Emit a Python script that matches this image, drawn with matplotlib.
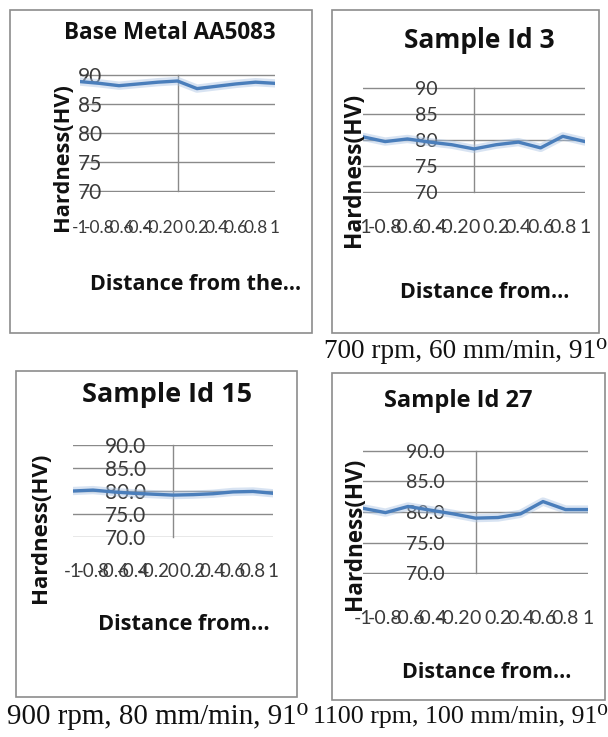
import matplotlib
matplotlib.use("Agg")
import matplotlib.pyplot as plt
from matplotlib.patches import Rectangle
from matplotlib.ticker import FormatStrFormatter

# ---------------- data ----------------
distance = [-1, -0.8, -0.6, -0.4, -0.2, 0, 0.2, 0.4, 0.6, 0.8, 1]
distance_labels = ["-1", "-0.8", "-0.6", "-0.4", "-0.2", "0", "0.2", "0.4", "0.6", "0.8", "1"]
hardness_ticks = [70, 75, 80, 85, 90]

base_metal = [88.8, 88.5, 88.1, 88.4, 88.7, 88.9, 87.6, 88.0, 88.4, 88.7, 88.5]
sample_3 = [80.6, 79.7, 80.2, 79.6, 79.1, 78.3, 79.1, 79.6, 78.5, 80.7, 79.7]
sample_15 = [80.0, 80.2, 79.8, 79.5, 79.3, 79.1, 79.2, 79.4, 79.8, 79.9, 79.5]
sample_27 = [80.6, 79.9, 80.9, 80.3, 79.7, 79.0, 79.1, 79.7, 81.7, 80.4, 80.4]

titles = ["Base Metal AA5083", "Sample Id 3", "Sample Id 15", "Sample Id 27"]
xlabels = ["Distance from the...", "Distance from...", "Distance from...", "Distance from..."]
ylabel = "Hardness(HV)"
captions = [None, "700 rpm, 60 mm/min, 91⁰", "900 rpm, 80 mm/min, 91⁰", "1100 rpm, 100 mm/min, 91⁰"]
series = [base_metal, sample_3, sample_15, sample_27]

# ---------------- layout (pixels, origin top-left) ----------------
W, H = 608, 737
panels = [
    dict(box=(10, 10, 312, 333), plot=(80, 275, 74, 192), yfmt="%d", ytick_fs=15, ypad=54,
         xtick_fs=12.5, xpad=20, title=(170, 33, 214), ylab=(62, 157, 147), xlab=(196, 285, 212),
         cap=None),
    dict(box=(332, 10, 599, 333), plot=(363, 585, 87, 193), yfmt="%d", ytick_fs=14, ypad=26,
         xtick_fs=14, xpad=19, title=(479, 40, 152), ylab=(354, 170, 153), xlab=(485, 292, 170),
         cap=(466, 351, 282)),
    dict(box=(16, 371, 297, 697), plot=(73, 273, 445, 537), yfmt="%.1f", ytick_fs=15, ypad=19,
         xtick_fs=13.5, xpad=19, title=(167, 395, 171), ylab=(41, 528, 150), xlab=(184, 625, 172),
         cap=(158, 716, 300)),
    dict(box=(332, 373, 605, 700), plot=(363, 588, 450, 574), yfmt="%.1f", ytick_fs=14, ypad=22,
         xtick_fs=14, xpad=26, title=(458, 401, 150), ylab=(355, 534, 152), xlab=(487, 672, 170),
         cap=(460, 716, 295)),
]

LINE_BLUE = "#4a7ebb"
GRID = "#8a8a8a"
TICK_TXT = "#3a3a3a"
SANS = ["Open Sans", "DejaVu Sans"]
TICK_FONT = ["Lato", "DejaVu Sans"]
SERIF = ["Liberation Serif", "DejaVu Serif"]


def fx(x):
    return x / W


def fy(y):
    return 1 - y / H


fig = plt.figure(figsize=(W / 100, H / 100), dpi=100)
renderer = fig.canvas.get_renderer()


# scale a text so that its drawn extent matches a target length in pixels
def fit(t, length, vertical=False):
    bb = t.get_window_extent(renderer)
    cur = bb.height if vertical else bb.width
    t.set_fontsize(t.get_fontsize() * length / cur)


for p, vals, title, xl, cap in zip(panels, series, titles, xlabels, captions):
    bx0, by0, bx1, by1 = p["box"]
    fig.add_artist(Rectangle((fx(bx0), fy(by1)), (bx1 - bx0) / W, (by1 - by0) / H,
                             transform=fig.transFigure, fill=False, edgecolor="#8c8c8c", lw=1.2))

    x0, x1, yt, yb = p["plot"]
    ax = fig.add_axes([fx(x0), fy(yb), (x1 - x0) / W, (yb - yt) / H])
    ax.set_facecolor("none")
    ax.set_xlim(-1, 1)
    ax.set_ylim(69.9, 90.1)
    for s in ["top", "right", "bottom"]:
        ax.spines[s].set_visible(False)
    ax.spines["left"].set_position(("data", 0))
    ax.spines["left"].set_bounds(70, 90)
    ax.spines["left"].set_color(GRID)
    ax.spines["left"].set_linewidth(1)

    ax.set_yticks(hardness_ticks)
    ax.yaxis.set_major_formatter(FormatStrFormatter(p["yfmt"]))
    ax.yaxis.grid(True, color=GRID, lw=1)
    ax.tick_params(axis="y", length=0, pad=p["ypad"], labelsize=p["ytick_fs"], labelcolor=TICK_TXT)
    ax.set_xticks(distance)
    ax.set_xticklabels(distance_labels)
    ax.tick_params(axis="x", length=0, pad=p["xpad"], labelsize=p["xtick_fs"], labelcolor=TICK_TXT)
    for lab in ax.get_xticklabels() + ax.get_yticklabels():
        lab.set_family(TICK_FONT)

    # soft shadow under the line, like the Excel style
    ax.plot(distance, vals, color="#a9c3e3", lw=6, alpha=0.45, solid_capstyle="round", zorder=3)
    ax.plot(distance, vals, color=LINE_BLUE, lw=2.4, solid_joinstyle="round", zorder=4)

    tx, ty, tw = p["title"]
    t = fig.text(fx(tx), fy(ty), title, ha="center", va="center", fontsize=14,
                 fontweight="bold", family=SANS, color="#111111")
    fit(t, tw)

    lx, ly, lh = p["ylab"]
    t = fig.text(fx(lx), fy(ly), ylabel, ha="center", va="center", rotation=90,
                 fontsize=12, fontweight="bold", family=SANS, color="#111111")
    fit(t, lh, vertical=True)

    xx, xy, xw = p["xlab"]
    t = fig.text(fx(xx), fy(xy), xl, ha="center", va="center", fontsize=12,
                 fontweight="bold", family=SANS, color="#111111")
    fit(t, xw)

    if cap is not None:
        cx, cy, cw = p["cap"]
        t = fig.text(fx(cx), fy(cy), cap, ha="center", va="center", fontsize=13,
                     family=SERIF, color="#111111")
        fit(t, cw)

fig.savefig("out.png", dpi=100)
